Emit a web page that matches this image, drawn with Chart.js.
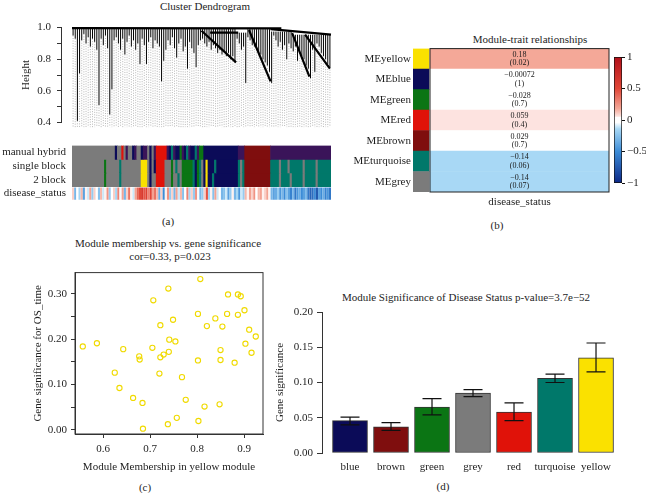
<!DOCTYPE html>
<html>
<head>
<meta charset="utf-8">
<script src="https://cdn.jsdelivr.net/npm/chart.js@4.4.1/dist/chart.umd.min.js"></script>
<style>
  body { margin: 0; background: #fff; }
  #wrap { position: relative; width: 646px; height: 493px; font-family: "Liberation Serif", serif; color: #1e1e1e; overflow: hidden; }
  .box { position: absolute; }
  .t { position: absolute; font-size: 11px; white-space: nowrap; transform: translate(-50%, -50%); }
</style>
</head>
<body>
<div id="wrap">
  <div class="t" style="left:205px;top:6px">Cluster Dendrogram</div>
  <div class="t" style="left:168px;top:221px">(a)</div>
  <div class="t" style="left:530px;top:39px">Module-trait relationships</div>
  <div class="t" style="left:497px;top:225px">(b)</div>
  <div class="t" style="left:168px;top:243px">Module membership vs. gene significance</div>
  <div class="t" style="left:170px;top:256px">cor=0.33, p=0.023</div>
  <div class="t" style="left:145px;top:487px">(c)</div>
  <div class="t" style="left:466px;top:297px">Module Significance of Disease Status p-value=3.7e−52</div>
  <div class="t" style="left:443px;top:486px">(d)</div>

  <div class="box" style="left:0;top:15px;width:335px;height:120px"><canvas id="dendro"></canvas></div>
  <div class="box" style="left:0;top:133px;width:335px;height:80px"><canvas id="strips"></canvas></div>
  <div class="box" style="left:330px;top:40px;width:316px;height:175px"><canvas id="heat"></canvas></div>
  <div class="box" style="left:600px;top:45px;width:46px;height:150px"><canvas id="cbar"></canvas></div>
  <div class="box" style="left:0;top:262px;width:300px;height:215px"><canvas id="scatter"></canvas></div>
  <div class="box" style="left:265px;top:300px;width:381px;height:193px"><canvas id="bars"></canvas></div>
</div>
<script>
// ---- data ----
// dendrogram leaves (height where each leaf ends)
const leafLow = [
  0.95, 0.93, 0.41, 0.71, 0.92, 0.96, 0.90, 0.94, 0.88, 0.93,
  0.91, 0.86, 0.51, 0.93, 0.89, 0.95, 0.87, 0.45, 0.61, 0.92,
  0.94, 0.90, 0.86, 0.93, 0.83, 0.91, 0.95, 0.88, 0.92, 0.86,
  0.90, 0.77, 0.93, 0.89, 0.77, 0.91, 0.94, 0.87, 0.92, 0.90,
  0.88, 0.66, 0.79, 0.86, 0.92, 0.89, 0.94, 0.87, 0.81, 0.90,
  0.93, 0.85, 0.88, 0.74, 0.91, 0.87, 0.84, 0.75, 0.89, 0.92,
  0.93, 0.90, 0.88, 0.91, 0.86, 0.89, 0.87, 0.84, 0.86, 0.83,
  0.85, 0.82, 0.84, 0.80, 0.82, 0.78, 0.93, 0.90, 0.86, 0.88,
  0.65, 0.94, 0.92, 0.89, 0.88, 0.86, 0.84, 0.83, 0.80, 0.78,
  0.76, 0.72, 0.65, 0.95, 0.92, 0.88, 0.91, 0.86, 0.89, 0.80,
  0.90, 0.87, 0.85, 0.88, 0.79, 0.84, 0.82, 0.80, 0.76, 0.74,
  0.68, 0.86, 0.72, 0.90, 0.88, 0.84, 0.82, 0.80, 0.77, 0.75
];
// merge height above each group of leaves: [first, last, height]
const leafTopRuns = [[0, 75, 0.996], [76, 80, 0.968], [81, 91, 0.99], [92, 101, 0.975], [102, 119, 0.955]];
// main visible branches: [x0, h0, x1, h1]
const branches = [
  [0, 0.997, 97, 0.995], [92, 0.99, 120, 0.955], [60, 0.98, 76, 0.78], [64, 0.968, 77, 0.968],
  [82, 0.985, 92, 0.66], [102, 0.965, 110, 0.69], [108, 0.955, 119.5, 0.74]
];
const heightTicks = [0.4, 0.5, 0.6, 0.7, 0.8, 0.9, 1.0];

// colour strips under the dendrogram: [module, number of leaves]
const stripRows = ['manual hybrid', 'single block', '2 block', 'disease_status'];
const manualHybrid = [
  ['grey', 20],
  ['blue', 1], ['grey', 2], ['red', 1], ['grey', 1], ['purple', 1], ['grey', 2], ['blue', 1], ['purple', 1],
  ['grey', 2], ['blue', 1], ['purple', 2], ['grey', 1], ['blue', 1], ['grey', 1], ['purple', 1],
  ['red', 5],
  ['purple', 1], ['blue', 1], ['turquoise', 1], ['purple', 1], ['blue', 2], ['green', 1], ['purple', 1],
  ['blue', 1], ['turquoise', 1], ['purple', 1], ['blue', 2], ['turquoise', 1], ['purple', 1],
  ['green', 2], ['blue', 16], ['purple', 3], ['brown', 12], ['purple', 28]
];
const singleBlock = [
  ['grey', 15], ['green', 1], ['grey', 6], ['turquoise', 1], ['grey', 9],
  ['yellow', 3], ['grey', 1], ['blue', 1], ['grey', 1], ['blue', 1],
  ['red', 4],
  ['grey', 3], ['green', 1], ['grey', 1], ['turquoise', 1], ['grey', 2], ['green', 1],
  ['green', 4], ['turquoise', 1], ['blue', 1], ['green', 1],
  ['turquoise', 1], ['grey', 1], ['blue', 1], ['yellow', 1],
  ['blue', 3], ['turquoise', 1], ['blue', 10],
  ['turquoise', 1], ['grey', 1], ['turquoise', 1],
  ['brown', 12],
  ['turquoise', 4], ['grey', 1], ['turquoise', 3], ['grey', 1], ['turquoise', 6], ['grey', 1],
  ['turquoise', 5], ['grey', 1], ['turquoise', 6]
];
const twoBlock = [
  ['grey', 15], ['green', 1], ['grey', 6], ['turquoise', 1], ['grey', 9],
  ['yellow', 3], ['grey', 1], ['blue', 1], ['grey', 2],
  ['red', 4],
  ['grey', 3], ['green', 1], ['grey', 2], ['turquoise', 1], ['grey', 1], ['green', 1],
  ['green', 4], ['turquoise', 1], ['blue', 1], ['green', 1],
  ['turquoise', 1], ['grey', 1], ['blue', 1], ['yellow', 1],
  ['blue', 2], ['turquoise', 1], ['blue', 11],
  ['turquoise', 1], ['grey', 1], ['turquoise', 1],
  ['brown', 12],
  ['turquoise', 4], ['grey', 1], ['turquoise', 4], ['grey', 1], ['turquoise', 5], ['grey', 1],
  ['turquoise', 5], ['grey', 1], ['turquoise', 6]
];
// gene-trait correlation per leaf (disease_status strip)
const diseaseCor = [
  0.1, -0.3, 0.0, -0.15, 0.15, -0.4, 0.05, -0.1, 0.2, -0.2,
  0.1, 0.0, -0.25, 0.15, -0.1, 0.05, 0.25, -0.2, 0.0, 0.1,
  -0.15, 0.3, -0.05, 0.2, -0.3, 0.1, 0.35, 0.05, -0.1, 0.2,
  0.4, 0.5, 0.6, 0.45, 0.55, 0.3, 0.5, 0.2, 0.35, 0.15,
  -0.35, 0.1, -0.5, 0.05, 0.25, -0.2, 0.1, -0.3, 0.2, -0.1,
  0.15, -0.25, 0.0, 0.3, -0.15, 0.1, -0.2, 0.25, -0.05, -0.3,
  -0.2, 0.1, 0.45, -0.15, 0.05, -0.25, 0.2, -0.1, 0.0, -0.3,
  -0.25, -0.1, -0.4, -0.2, 0.05, -0.3, -0.15, -0.45, -0.1, -0.2,
  0.15, 0.05, 0.2, 0.1, 0.25, 0.0, 0.15, 0.2, 0.05, 0.1,
  0.2, 0.05, -0.3, -0.4, -0.35, -0.2, -0.45, -0.3, -0.5, -0.25,
  -0.4, -0.55, -0.3, -0.6, -0.45, -0.35, -0.5, -0.4, -0.3, -0.6,
  -0.7, -0.65, -0.5, -0.75, -0.4, -0.5, -0.35, -0.55, -0.45, -0.6
];

// module-trait relationships
const meNames = ['MEyellow', 'MEblue', 'MEgreen', 'MEred', 'MEbrown', 'MEturquoise', 'MEgrey'];
const meModules = ['yellow', 'blue', 'green', 'red', 'brown', 'turquoise', 'grey'];
const meCor = [0.18, -0.00072, -0.028, 0.059, 0.029, -0.14, -0.14];
const mePval = ['0.02', '1', '0.7', '0.4', '0.7', '0.06', '0.07'];
const cbarTicks = [-1, -0.5, 0, 0.5, 1];

// module membership vs gene significance (yellow module)
const mmYellow = [0.557, 0.587, 0.625, 0.635, 0.643, 0.664, 0.677, 0.678, 0.684, 0.685,
  0.705, 0.707, 0.720, 0.722, 0.722, 0.729, 0.738, 0.739, 0.740, 0.741,
  0.749, 0.754, 0.757, 0.768, 0.776, 0.802, 0.802, 0.803, 0.807, 0.816,
  0.821, 0.839, 0.848, 0.850, 0.850, 0.854, 0.864, 0.866, 0.880, 0.887,
  0.887, 0.893, 0.901, 0.903, 0.911, 0.916, 0.925];
const gsOS = [0.184, 0.191, 0.126, 0.092, 0.178, 0.070, 0.162, 0.155, 0.059, 0.002,
  0.181, 0.286, 0.124, 0.231, 0.160, 0.166, 0.012, 0.312, 0.172, 0.199,
  0.243, 0.195, 0.026, 0.116, 0.066, 0.256, 0.153, 0.019, 0.333, 0.051,
  0.229, 0.246, 0.056, 0.154, 0.176, 0.228, 0.256, 0.299, 0.148, 0.299,
  0.254, 0.295, 0.264, 0.190, 0.221, 0.170, 0.206];
const mmTicks = [0.6, 0.7, 0.8, 0.9];
const gsTicks = [0, 0.05, 0.10, 0.15, 0.20, 0.25, 0.30];

// module significance
const sigNames = ['blue', 'brown', 'green', 'grey', 'red', 'turquoise', 'yellow'];
const sigMean = [0.046, 0.037, 0.065, 0.085, 0.058, 0.106, 0.135];
const sigLow = [0.040, 0.032, 0.054, 0.080, 0.046, 0.100, 0.115];
const sigHigh = [0.051, 0.043, 0.077, 0.090, 0.071, 0.112, 0.156];
const sigTicks = [0, 0.05, 0.10, 0.15, 0.20];

// ---- styles ----
const modColor = {
  grey: '#7b7b7b', blue: '#0b0b58', green: '#0b7514', red: '#e01209', brown: '#7f0e0e',
  turquoise: '#00786a', yellow: '#fae100', purple: '#3a1459'
};
const corStops = [[-1, [12, 40, 135]], [-0.5, [60, 140, 215]], [-0.14, [168, 216, 245]], [-0.04, [255, 255, 255]],
  [0.04, [255, 255, 255]], [0.06, [253, 226, 222]], [0.18, [244, 168, 152]], [0.5, [225, 70, 55]], [1, [178, 16, 26]]];
function corColor(v) {
  for (let k = 1; k < corStops.length; k++) {
    const [v1, c1] = corStops[k];
    if (v <= v1) {
      const [v0, c0] = corStops[k - 1];
      const f = (v - v0) / (v1 - v0);
      return 'rgb(' + c0.map((c, j) => Math.round(c + (c1[j] - c) * f)).join(',') + ')';
    }
  }
  return 'rgb(178,16,26)';
}
const minus = v => String(v).replace('-', '−');

Chart.defaults.font.family = '"Liberation Serif", serif';
Chart.defaults.font.size = 11;
Chart.defaults.color = '#1e1e1e';
const base = {
  responsive: true, maintainAspectRatio: false, animation: false, events: [],
  plugins: { legend: { display: false }, tooltip: { enabled: false } }
};
const noGrid = { display: false, drawTicks: false };

// ---- (a) dendrogram ----
const leafTop = [];
leafTopRuns.forEach(r => { for (let i = r[0]; i <= r[1]; i++) leafTop[i] = r[2]; });
const guidePts = [], leafPts = [], branchPts = [];
leafLow.forEach((h, i) => {
  const x = i + 0.5;
  guidePts.push({ x, y: h }, { x, y: 0.37 }, { x, y: null });
  leafPts.push({ x, y: h }, { x, y: leafTop[i] }, { x, y: null });
});
branches.forEach(b => branchPts.push({ x: b[0], y: b[1] }, { x: b[2], y: b[3] }, { x: b[2], y: null }));

new Chart(document.getElementById('dendro'), {
  type: 'scatter',
  data: { datasets: [
    { data: branchPts, showLine: true, borderColor: '#000', borderWidth: 2.2, pointRadius: 0, clip: false },
    { data: leafPts, showLine: true, borderColor: '#000', borderWidth: 1, pointRadius: 0 },
    { data: guidePts, showLine: true, borderColor: '#9a9a9a', borderWidth: 0.7, borderDash: [1, 1.5], pointRadius: 0, clip: false }
  ] },
  options: { ...base,
    layout: { padding: { top: 10, bottom: 6, right: 4, left: 0 } },
    scales: {
      x: { type: 'linear', display: false, min: -5.1, max: 120 },
      y: { min: 0.4, max: 1.0,
        afterBuildTicks: s => { s.ticks = heightTicks.map(v => ({ value: v })); },
        afterFit: s => { s.width = 61; },
        ticks: { autoSkip: false, padding: 6, callback: v => (Math.round(v * 10) % 2 === 0 ? v.toFixed(1) : '') },
        grid: { drawOnChartArea: false, tickLength: 4, color: '#333' },
        border: { color: '#333' },
        title: { display: true, text: 'Height', padding: { top: 20 } } }
    } }
});

// ---- (a) colour strips ----
function runsToBars(runs, row) {
  let s = 0; const data = [], colors = [];
  runs.forEach(([m, n]) => { data.push({ x: [s, s + n], y: row }); colors.push(modColor[m]); s += n; });
  return { data, backgroundColor: colors, grouped: false, barPercentage: 1, categoryPercentage: 1 };
}
new Chart(document.getElementById('strips'), {
  type: 'bar',
  data: { labels: stripRows, datasets: [
    runsToBars(manualHybrid, stripRows[0]),
    runsToBars(singleBlock, stripRows[1]),
    runsToBars(twoBlock, stripRows[2]),
    { data: diseaseCor.map((v, i) => ({ x: [i, i + 1], y: stripRows[3] })), backgroundColor: diseaseCor.map(corColor),
      grouped: false, barPercentage: 0.9, categoryPercentage: 1 }
  ] },
  options: { ...base, indexAxis: 'y',
    layout: { padding: { top: 2, bottom: 4, right: 4, left: 0 } },
    scales: {
      x: { type: 'linear', display: false, min: 0, max: 120 },
      y: { z: 1, afterFit: s => { s.width = 72; },
        ticks: { padding: 6 },
        grid: { offset: true, drawTicks: false, lineWidth: 1.2, color: c => (c.index === 1 || c.index === 2 ? '#000' : 'rgba(0,0,0,0)') },
        border: { display: false } }
    } }
});

// ---- (b) module-trait heatmap ----
new Chart(document.getElementById('heat'), {
  type: 'bar',
  data: { labels: meNames, datasets: [
    { data: meNames.map(() => [-0.095, -0.006]), backgroundColor: meModules.map(m => modColor[m]), grouped: false, barPercentage: 1, categoryPercentage: 1 },
    { data: meNames.map(() => [0, 1]), backgroundColor: meCor.map(corColor), grouped: false, barPercentage: 1, categoryPercentage: 1 }
  ] },
  options: { ...base, indexAxis: 'y',
    layout: { padding: { top: 8, right: 37, left: 0, bottom: 0 } },
    scales: {
      x: { type: 'linear', min: -0.095, max: 1,
        afterBuildTicks: s => { s.ticks = [{ value: 0.5 }]; },
        afterFit: s => { s.height = 23; },
        ticks: { padding: 4, callback: () => 'disease_status' },
        grid: noGrid, border: { display: false } },
      y: { afterFit: s => { s.width = 83; }, ticks: { padding: 2 }, grid: noGrid, border: { display: false } }
    } },
  plugins: [{ id: 'cells', afterDatasetsDraw(chart) {
    const { ctx, scales: { x, y }, chartArea } = chart;
    ctx.save();
    ctx.strokeStyle = '#222'; ctx.lineWidth = 1;
    ctx.strokeRect(x.getPixelForValue(0), chartArea.top, x.getPixelForValue(1) - x.getPixelForValue(0), chartArea.bottom - chartArea.top);
    ctx.fillStyle = '#1a1a1a'; ctx.font = '8px "Liberation Serif", serif';
    ctx.textAlign = 'center'; ctx.textBaseline = 'middle';
    const cx = x.getPixelForValue(0.5);
    meCor.forEach((v, i) => {
      const cy = y.getPixelForValue(i);
      ctx.fillText(minus(v), cx, cy - 4.3);
      ctx.fillText('(' + mePval[i] + ')', cx, cy + 4.3);
    });
    ctx.restore();
  } }]
});

// ---- (b) colour key ----
new Chart(document.getElementById('cbar'), {
  type: 'bar',
  data: { labels: [''], datasets: [{
    data: [[-1, 1]], barPercentage: 1, categoryPercentage: 1, borderColor: '#111', borderWidth: 1, borderSkipped: false,
    backgroundColor: c => {
      const a = c.chart.chartArea; if (!a) return '#fff';
      const g = c.chart.ctx.createLinearGradient(0, a.top, 0, a.bottom);
      corStops.forEach(([v]) => g.addColorStop((1 - v) / 2, corColor(v)));
      return g;
    } }] },
  options: { ...base,
    layout: { padding: { left: 14, top: 12, bottom: 12, right: 0 } },
    scales: {
      x: { display: false },
      y: { position: 'right', min: -1, max: 1,
        afterBuildTicks: s => { s.ticks = cbarTicks.map(v => ({ value: v })); },
        afterFit: s => { s.width = 24; },
        ticks: { padding: 2, callback: v => minus(v) },
        grid: { drawOnChartArea: false, tickLength: 3, color: '#111' }, border: { display: false } }
    } }
});

// ---- (c) scatter ----
new Chart(document.getElementById('scatter'), {
  type: 'scatter',
  data: { datasets: [{ data: mmYellow.map((x, i) => ({ x, y: gsOS[i] })), pointRadius: 2.6, pointBorderWidth: 1.1,
    borderColor: '#f0da00', backgroundColor: 'rgba(0,0,0,0)' }] },
  options: { ...base,
    layout: { padding: { top: 6, right: 37, left: 0, bottom: 0 } },
    scales: {
      x: { min: 0.5404, max: 0.9404,
        afterBuildTicks: s => { s.ticks = mmTicks.map(v => ({ value: v })); },
        afterFit: s => { s.height = 43; },
        ticks: { padding: 5, maxRotation: 0, callback: v => v.toFixed(1) },
        grid: { drawOnChartArea: false, tickLength: 4, color: '#333' }, border: { color: '#333' },
        title: { display: true, text: 'Module Membership in yellow module', padding: { bottom: 3.4, top: 0 } } },
      y: { min: -0.0097, max: 0.3473,
        afterBuildTicks: s => { s.ticks = gsTicks.map(v => ({ value: v })); },
        afterFit: s => { s.width = 75; },
        ticks: { autoSkip: false, padding: 4, callback: v => (Math.round(v * 100) % 10 === 0 ? v.toFixed(2) : '') },
        grid: { drawOnChartArea: false, tickLength: 4, color: '#333' }, border: { color: '#333' },
        title: { display: true, text: 'Gene significance for OS_time', padding: { top: 31.4 } } }
    } },
  plugins: [{ id: 'frame', afterDraw(chart) {
    const { ctx, chartArea: a } = chart;
    ctx.save(); ctx.strokeStyle = '#333'; ctx.lineWidth = 1;
    ctx.strokeRect(a.left, a.top, a.right - a.left, a.bottom - a.top);
    ctx.restore();
  } }]
});

// ---- (d) module significance bars ----
new Chart(document.getElementById('bars'), {
  type: 'bar',
  data: { datasets: [{ data: sigMean.map((v, i) => ({ x: i, y: v })), barThickness: 35,
    backgroundColor: sigNames.map(m => modColor[m]), borderColor: '#333', borderWidth: 1, borderSkipped: false }] },
  options: { ...base,
    layout: { padding: { top: 12, right: 26, left: 0, bottom: 0 } },
    scales: {
      x: { type: 'linear', offset: false, min: -0.683, max: 6.585,
        afterBuildTicks: s => { s.ticks = sigNames.map((n, i) => ({ value: i })); },
        afterFit: s => { s.height = 40; s.paddingLeft = 0; s.paddingRight = 0; },
        ticks: { padding: 8, autoSkip: false, maxRotation: 0, minRotation: 0, callback: v => sigNames[v] },
        grid: noGrid, border: { display: false } },
      y: { min: 0, max: 0.2,
        afterBuildTicks: s => { s.ticks = sigTicks.map(v => ({ value: v })); },
        afterFit: s => { s.width = 57; },
        ticks: { padding: 4, callback: v => v.toFixed(2) },
        grid: { drawOnChartArea: false, tickLength: 5, color: '#333' }, border: { color: '#333' },
        title: { display: true, text: 'Gene significance', padding: { top: 8.4 } } }
    } },
  plugins: [{ id: 'errbars', afterDatasetsDraw(chart) {
    const { ctx, scales: { x, y } } = chart;
    ctx.save(); ctx.strokeStyle = '#111'; ctx.lineWidth = 1.2;
    sigMean.forEach((v, i) => {
      const px = x.getPixelForValue(i), lo = y.getPixelForValue(sigLow[i]), hi = y.getPixelForValue(sigHigh[i]);
      ctx.beginPath();
      ctx.moveTo(px, lo); ctx.lineTo(px, hi);
      ctx.moveTo(px - 9.5, lo); ctx.lineTo(px + 9.5, lo);
      ctx.moveTo(px - 9.5, hi); ctx.lineTo(px + 9.5, hi);
      ctx.stroke();
    });
    ctx.restore();
  } }]
});
</script>
</body>
</html>
